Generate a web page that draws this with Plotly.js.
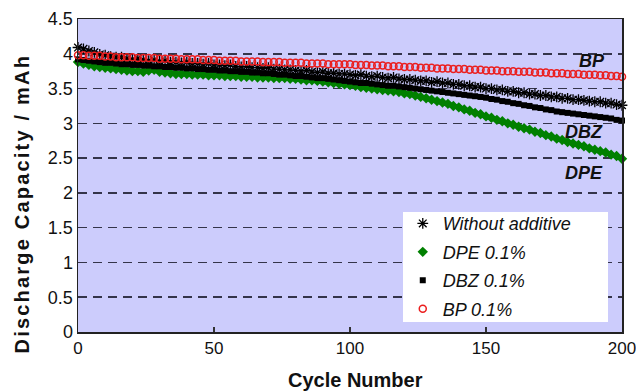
<!DOCTYPE html>
<html>
<head>
<meta charset="utf-8">
<script src="https://cdn.plot.ly/plotly-3.0.1.min.js"></script>
<style>
  html, body { margin: 0; padding: 0; background: #fff; }
  #chart { width: 636px; height: 391px; }
  .annotation[data-index="3"] .annotation-text { letter-spacing: 2.2px; }
</style>
</head>
<body>
<div id="chart"></div>
<script>
// Cycle numbers (every second cycle)
const cycles = [0,2,4,6,8,10,12,14,16,18,20,22,24,26,28,30,32,34,36,38,40,42,44,46,48,50,
  52,54,56,58,60,62,64,66,68,70,72,74,76,78,80,82,84,86,88,90,92,94,96,98,100,
  102,104,106,108,110,112,114,116,118,120,122,124,126,128,130,132,134,136,138,140,
  142,144,146,148,150,152,154,156,158,160,162,164,166,168,170,172,174,176,178,180,
  182,184,186,188,190,192,194,196,198,200];

// Discharge capacity (mAh)
const withoutAdditive = [4.09,4.07,4.04,4.02,3.99,3.98,3.96,3.95,3.95,3.93,3.92,3.93,3.91,3.90,3.91,3.89,3.90,3.88,3.88,3.87,3.88,
  3.86,3.86,3.85,3.86,3.84,3.84,3.83,3.84,3.82,3.81,3.82,3.80,3.80,3.79,3.80,3.78,3.78,3.77,3.77,3.76,
  3.75,3.76,3.74,3.73,3.74,3.72,3.72,3.71,3.71,3.70,3.69,3.70,3.68,3.67,3.68,3.66,3.65,3.66,3.64,3.63,
  3.63,3.62,3.61,3.61,3.59,3.60,3.58,3.58,3.56,3.56,3.54,3.54,3.52,3.52,3.50,3.50,3.48,3.48,3.46,3.46,
  3.44,3.44,3.42,3.42,3.40,3.40,3.38,3.38,3.36,3.36,3.34,3.34,3.33,3.32,3.31,3.31,3.29,3.29,3.27,3.26];

const dpe = [3.88,3.86,3.84,3.82,3.81,3.80,3.79,3.78,3.77,3.76,3.75,3.75,3.74,3.76,3.77,3.74,3.73,3.72,3.71,3.71,3.71,
  3.70,3.70,3.70,3.69,3.69,3.69,3.68,3.68,3.68,3.67,3.67,3.67,3.66,3.66,3.66,3.65,3.65,3.65,3.64,3.64,
  3.63,3.62,3.62,3.61,3.60,3.59,3.58,3.57,3.56,3.55,3.54,3.52,3.51,3.50,3.49,3.48,3.47,3.46,3.45,3.43,
  3.42,3.40,3.38,3.36,3.34,3.32,3.30,3.28,3.25,3.23,3.20,3.18,3.15,3.13,3.10,3.08,3.05,3.03,3.00,2.98,
  2.95,2.93,2.91,2.88,2.86,2.83,2.81,2.78,2.76,2.73,2.71,2.69,2.67,2.64,2.62,2.60,2.58,2.55,2.53,2.49];

const dbz = [3.92,3.91,3.90,3.89,3.88,3.87,3.87,3.86,3.85,3.85,3.84,3.84,3.83,3.83,3.82,3.82,3.81,3.81,3.80,3.80,3.79,
  3.79,3.78,3.78,3.77,3.77,3.76,3.76,3.75,3.75,3.74,3.74,3.73,3.73,3.72,3.72,3.71,3.70,3.70,3.69,3.68,
  3.68,3.67,3.66,3.65,3.65,3.64,3.63,3.62,3.61,3.60,3.59,3.58,3.58,3.57,3.56,3.55,3.54,3.54,3.53,3.52,
  3.51,3.50,3.49,3.48,3.47,3.46,3.45,3.44,3.43,3.42,3.41,3.40,3.39,3.38,3.37,3.35,3.34,3.32,3.31,3.29,
  3.28,3.26,3.25,3.23,3.22,3.20,3.19,3.17,3.16,3.15,3.14,3.13,3.12,3.11,3.10,3.09,3.08,3.07,3.05,3.04];

const bp = [3.98,3.98,3.97,3.97,3.97,3.96,3.96,3.95,3.95,3.95,3.95,3.94,3.94,3.94,3.94,3.93,3.93,3.93,3.93,3.92,3.92,
  3.92,3.92,3.91,3.91,3.91,3.90,3.90,3.90,3.90,3.89,3.89,3.89,3.89,3.88,3.88,3.88,3.88,3.87,3.87,3.87,
  3.87,3.86,3.86,3.86,3.86,3.85,3.85,3.85,3.85,3.85,3.84,3.84,3.84,3.83,3.83,3.83,3.82,3.82,3.82,3.81,
  3.81,3.81,3.80,3.80,3.80,3.79,3.79,3.79,3.78,3.78,3.78,3.77,3.77,3.77,3.76,3.76,3.76,3.75,3.75,3.75,
  3.74,3.74,3.74,3.73,3.73,3.73,3.72,3.72,3.72,3.71,3.71,3.71,3.70,3.70,3.70,3.69,3.69,3.68,3.68,3.67];

const seriesNames = ["Without additive", "DPE 0.1%", "DBZ 0.1%", "BP 0.1%"];
const xTicks = [0, 50, 100, 150, 200];
const yTicks = [0, 0.5, 1, 1.5, 2, 2.5, 3, 3.5, 4, 4.5];
const labelTexts = ["BP", "DBZ", "DPE"];
const labelX = [189, 186, 186];
const labelY = [3.89, 2.88, 2.28];
const xTitle = "Cycle Number";
const yTitle = "Discharge Capacity / mAh";

const FONT = '"Liberation Sans", Arial, Helvetica, sans-serif';
const GREEN = 'rgb(0,128,0)';
const RED = 'rgb(235,30,30)';

const traces = [
  {x: cycles, y: withoutAdditive, name: seriesNames[0], mode: 'markers', legendgroup: 'a',
   marker: {symbol: 'asterisk-open', size: 9, color: '#000', line: {color: '#000', width: 1.3}}},
  {x: cycles, y: dpe, mode: 'lines', showlegend: false, hoverinfo: 'skip',
   line: {color: GREEN, width: 5}},
  {x: cycles, y: dpe, name: seriesNames[1], mode: 'markers', legendgroup: 'b',
   marker: {symbol: 'diamond', size: 8, color: GREEN}},
  {x: cycles, y: dbz, mode: 'lines', showlegend: false, hoverinfo: 'skip',
   line: {color: '#000', width: 4}},
  {x: cycles, y: dbz, name: seriesNames[2], mode: 'markers', legendgroup: 'c',
   marker: {symbol: 'square', size: 6, color: '#000'}},
  {x: cycles, y: bp, name: seriesNames[3], mode: 'markers', legendgroup: 'd',
   marker: {symbol: 'circle-open', size: 7, color: RED, line: {color: RED, width: 1.5}}}
].map(t => Object.assign(t, {type: 'scatter', cliponaxis: false}));

const annotations = labelTexts.map((t, i) => ({
  x: labelX[i], y: labelY[i], xref: 'x', yref: 'y', text: t, showarrow: false,
  font: {family: FONT, size: 18, color: '#111', weight: 'bold', style: 'italic'}
}));
// y-axis title (index 3)
annotations.push({
  x: -0.104, y: 0.41, xref: 'paper', yref: 'paper', xanchor: 'center', yanchor: 'middle',
  text: yTitle, textangle: -90, showarrow: false,
  font: {family: FONT, size: 20, color: '#111', weight: 'bold'}
});
// x-axis title
annotations.push({
  x: 0.511, y: -0.153, xref: 'paper', yref: 'paper', xanchor: 'center', yanchor: 'middle',
  text: xTitle, showarrow: false,
  font: {family: FONT, size: 20, color: '#111', weight: 'bold'}
});

const layout = {
  width: 636, height: 391,
  margin: {l: 78, r: 14, t: 19, b: 59},
  paper_bgcolor: '#ffffff',
  plot_bgcolor: 'rgb(204,204,252)',
  font: {family: FONT, color: '#111', size: 16},
  showlegend: true,
  legend: {
    x: 0.597, y: 0.405, xanchor: 'left', yanchor: 'top',
    bgcolor: 'rgba(0,0,0,0)', borderwidth: 0,
    traceorder: 'grouped', tracegroupgap: 2,
    font: {family: FONT, size: 18, color: '#111', style: 'italic'}
  },
  shapes: [{
    type: 'rect', xref: 'paper', yref: 'paper', layer: 'above',
    x0: 0.5974, x1: 0.9743, y0: 0.032, y1: 0.3834,
    fillcolor: '#ffffff', line: {width: 0}
  }],
  xaxis: {
    range: [0, 200], tickvals: xTicks, ticks: 'inside', ticklen: 5, tickwidth: 1.5, tickcolor: '#333',
    showgrid: false, zeroline: false, showline: true, linecolor: '#222', linewidth: 1.5, mirror: true,
    ticklabeloverflow: 'allow',
    tickfont: {family: FONT, size: 17, color: '#111'}
  },
  yaxis: {
    range: [0, 4.5], tickvals: yTicks, ticks: '', showgrid: true, gridcolor: '#34344a', gridwidth: 1.5,
    griddash: '9px,6px', zeroline: false, showline: true, linecolor: '#222', linewidth: 1.5, mirror: true,
    tickfont: {family: FONT, size: 18, color: '#111'}
  },
  annotations: annotations
};

Plotly.newPlot('chart', traces, layout, {displayModeBar: false, staticPlot: true});
</script>
</body>
</html>
